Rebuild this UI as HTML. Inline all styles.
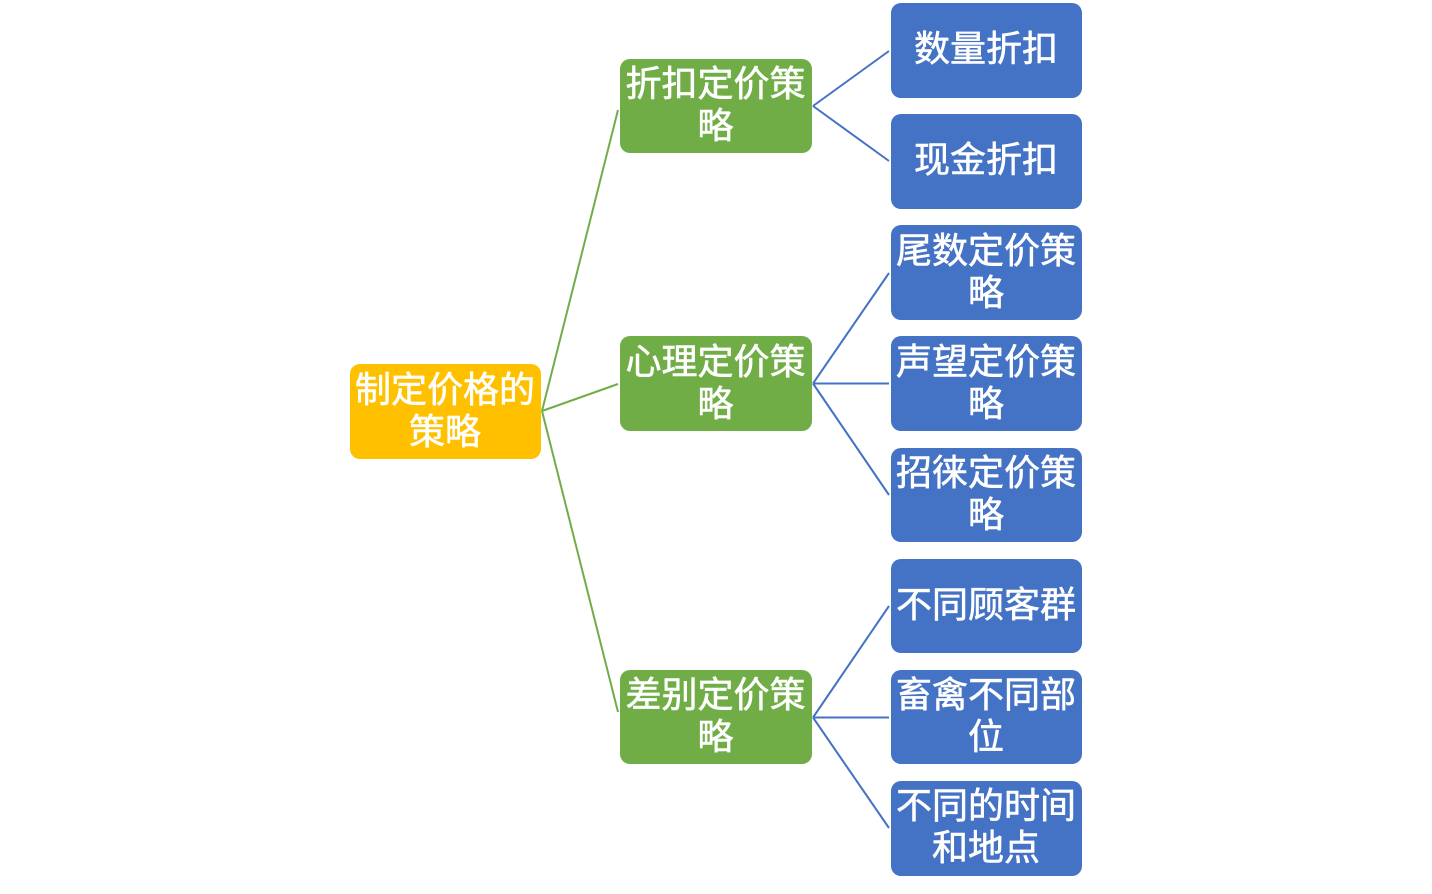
<!DOCTYPE html>
<html><head><meta charset="utf-8">
<style>
html,body{margin:0;padding:0;background:#fff;width:1432px;height:894px;overflow:hidden}
.n{position:absolute;display:flex;align-items:center;justify-content:center;text-align:center;color:#fff;border-radius:10px;font-family:"Liberation Sans","Noto Sans CJK SC",sans-serif;font-size:36px;line-height:42px;box-sizing:border-box;padding:0 1px 2px 0;-webkit-text-stroke:0.6px #fff;white-space:nowrap}
.y{background:#ffc000}.g{background:#70ad47}.b{background:#4472c4}
.u{padding-bottom:4px}
svg{position:absolute;left:0;top:0}
</style></head><body>
<svg width="1432" height="894" fill="none" stroke-width="2">
<g stroke="#70ad47">
<line x1="542" y1="411" x2="618" y2="110"/>
<line x1="542" y1="411" x2="618" y2="384"/>
<line x1="542" y1="411" x2="618" y2="712"/>
</g>
<g stroke="#4472c4">
<line x1="813" y1="106" x2="889" y2="51"/>
<line x1="813" y1="106" x2="889" y2="161"/>
<line x1="813" y1="383.5" x2="889" y2="273"/>
<line x1="813" y1="383.5" x2="889" y2="383.5"/>
<line x1="813" y1="383.5" x2="889" y2="495"/>
<line x1="813" y1="717.5" x2="889" y2="606"/>
<line x1="813" y1="717.5" x2="889" y2="717.5"/>
<line x1="813" y1="717.5" x2="889" y2="828"/>
</g>
</svg>
<div class="n y" style="left:350px;top:364px;width:191px;height:95px">制定价格的<br>策略</div>
<div class="n g" style="left:620px;top:59px;width:192px;height:94px">折扣定价策<br>略</div>
<div class="n g" style="left:620px;top:336px;width:192px;height:95px">心理定价策<br>略</div>
<div class="n g" style="left:620px;top:670px;width:192px;height:94px">差别定价策<br>略</div>
<div class="n b u" style="left:891px;top:3px;width:191px;height:95px">数量折扣</div>
<div class="n b u" style="left:891px;top:114px;width:191px;height:95px">现金折扣</div>
<div class="n b" style="left:891px;top:225px;width:191px;height:95px">尾数定价策<br>略</div>
<div class="n b" style="left:891px;top:336px;width:191px;height:95px">声望定价策<br>略</div>
<div class="n b" style="left:891px;top:448px;width:191px;height:94px">招徕定价策<br>略</div>
<div class="n b" style="left:891px;top:559px;width:191px;height:94px">不同顾客群</div>
<div class="n b" style="left:891px;top:670px;width:191px;height:94px">畜禽不同部<br>位</div>
<div class="n b u" style="left:891px;top:781px;width:191px;height:95px">不同的时间<br>和地点</div>
</body></html>
